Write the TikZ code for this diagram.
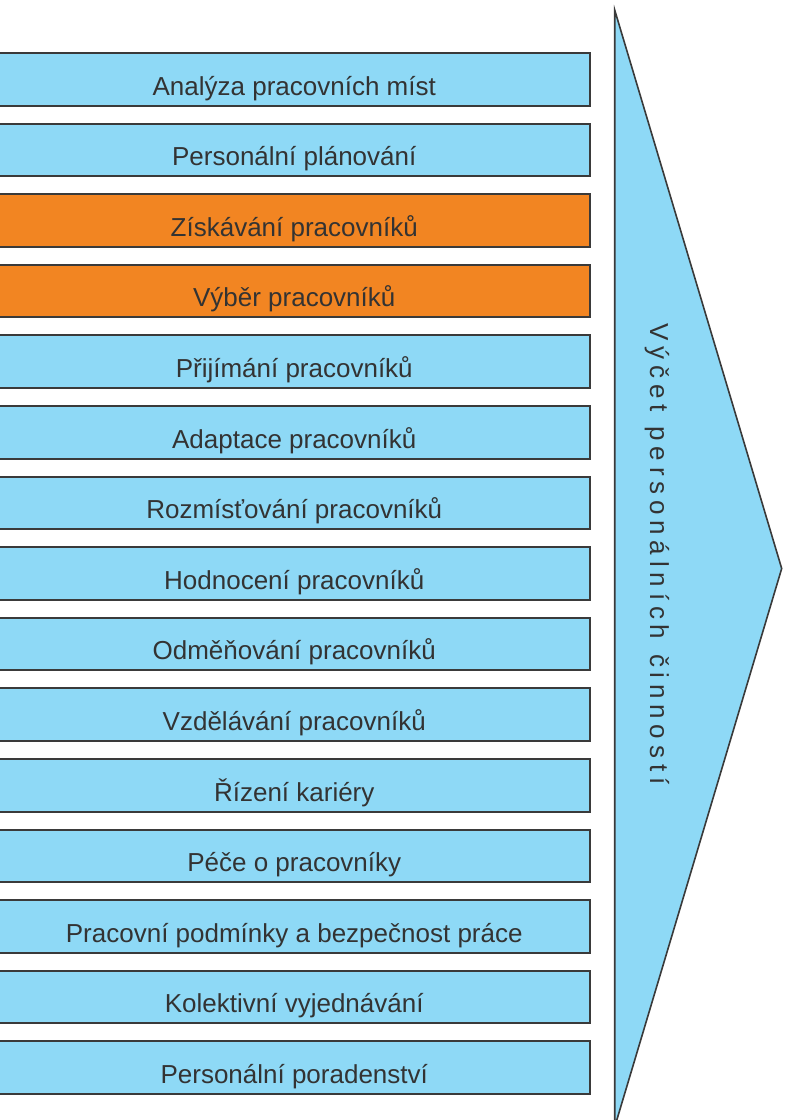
\documentclass[tikz,border=0pt]{standalone}
\usepackage{fontspec}
\setmainfont{Liberation Sans}
\definecolor{boxblue}{HTML}{8ED9F6}
\definecolor{boxorange}{HTML}{F28522}
\definecolor{edge}{HTML}{3A3A3A}
\definecolor{txt}{HTML}{333333}
\newcommand\myLgap{\hspace{5.8pt}}
\newcommand\myWgap{\hspace{14.8pt}}
\tikzset{
  item/.style={draw=edge, line width=2pt, fill=boxblue, rectangle,
    minimum width=591.5pt, minimum height=52.5pt, inner sep=0pt, outer sep=0pt},
  hot/.style={item, fill=boxorange},
  lbl/.style={anchor=base, text=txt, font=\fontsize{26}{30}\selectfont, inner sep=0pt},
  arrowshape/.style={draw=edge, line width=1.6pt, fill=boxblue, line join=miter},
  vlabel/.style={anchor=base, rotate=-90, text=txt, font=\fontsize{26}{30}\selectfont, inner sep=0pt}
}
\begin{document}
\begin{tikzpicture}[x=1pt,y=-1pt]
\useasboundingbox (0,0) rectangle (792,1120);
\clip (0,0) rectangle (792,1120);
\foreach \i/\t/\s in {
  0/{Analýza pracovních míst}/item,
  1/{Personální plánování}/item,
  2/{Získávání pracovníků}/hot,
  3/{Výběr pracovníků}/hot,
  4/{Přijímání pracovníků}/item,
  5/{Adaptace pracovníků}/item,
  6/{Rozmísťování pracovníků}/item,
  7/{Hodnocení pracovníků}/item,
  8/{Odměňování pracovníků}/item,
  9/{Vzdělávání pracovníků}/item,
  10/{Řízení kariéry}/item,
  11/{Péče o pracovníky}/item,
  12/{Pracovní podmínky a bezpečnost práce}/item,
  13/{Kolektivní vyjednávání}/item,
  14/{Personální poradenství}/item}{
  \node[\s] (b\i) at (294.25, {79.25+70.6*\i}) {};
  \node[lbl] (t\i) at ([yshift=-42pt]b\i.north) {\t};
}
\coordinate (ptop) at (614.7,10);
\coordinate (papex) at (781.7,568.5);
\coordinate (pbot) at (614.7,1127);
\draw[arrowshape] (ptop) -- (papex) -- (pbot) -- cycle;
\node[vlabel] (v) at (650,554) {V\myLgap ý\myLgap č\myLgap e\myLgap t\myWgap p\myLgap e\myLgap r\myLgap s\myLgap o\myLgap n\myLgap á\myLgap l\myLgap n\myLgap í\myLgap c\myLgap h\myWgap č\myLgap i\myLgap n\myLgap n\myLgap o\myLgap s\myLgap t\myLgap í};
\end{tikzpicture}
\end{document}
